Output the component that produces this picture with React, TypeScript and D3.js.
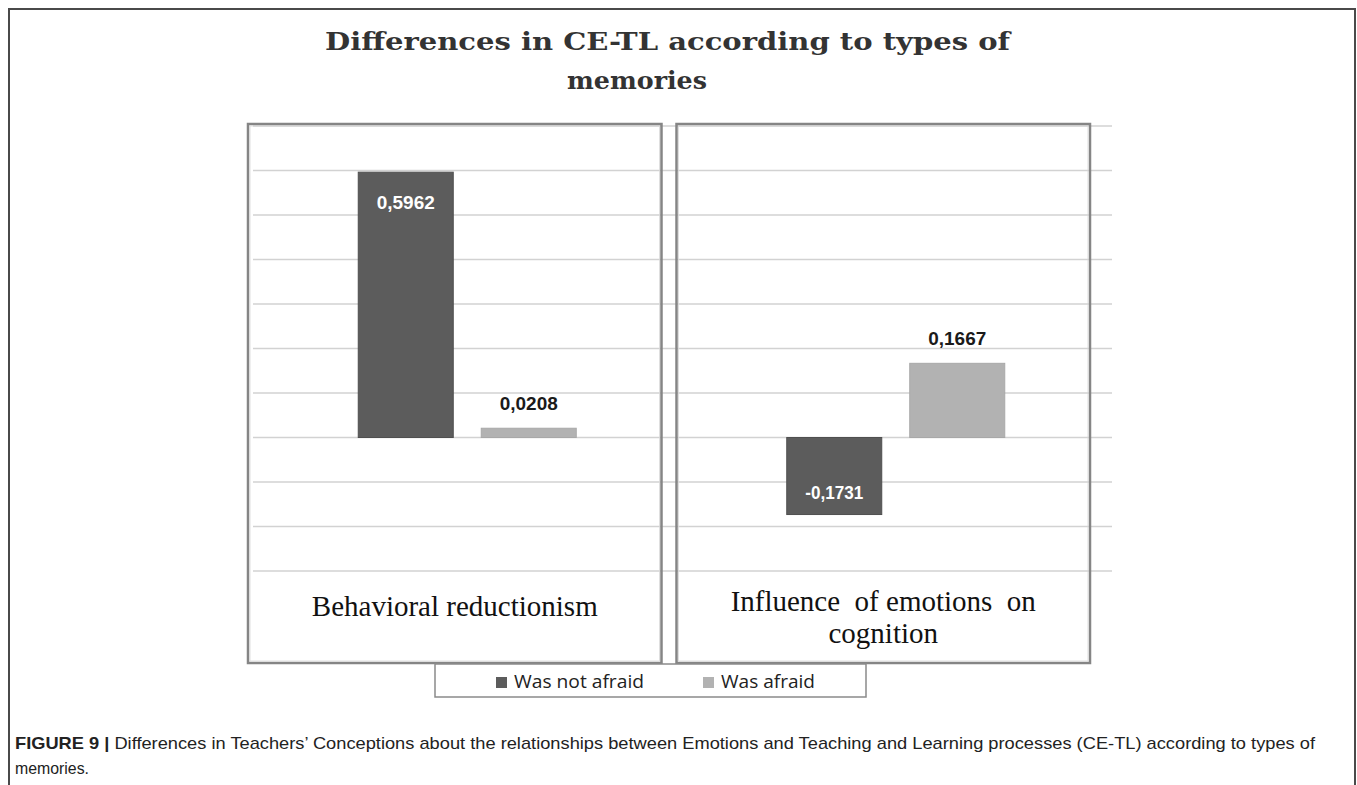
import React from "react";
import * as d3 from "d3";

const categories = ["Behavioral reductionism", "Influence of emotions on cognition"];
const categoryLabelLines = [["Behavioral reductionism"], ["Influence  of emotions  on", "cognition"]];
const seriesNames = ["Was not afraid", "Was afraid"];
const wasNotAfraid = [0.5962, -0.1731];
const wasAfraid = [0.0208, 0.1667];
const seriesColors = ["#5c5c5c", "#b2b2b2"];
const yDomain: [number, number] = [-0.3, 0.7];
const titleLines = ["Differences in CE-TL according to types of", "memories"];
const captionBold = "FIGURE 9 | ";
const captionLine1 =
  "Differences in Teachers\u2019 Conceptions about the relationships between Emotions and Teaching and Learning processes (CE-TL) according to types of";
const captionLine2 = "memories.";

const W = 1357;
const H = 785;

const fmt = (v: number) => d3.format(".4f")(v).replace(".", ",").replace("\u2212", "-");

export default function App() {
  const x0 = d3.scaleBand<string>().domain(categories).range([253, 1110]).padding(0);
  const groupW = 218;
  const x1 = d3.scaleBand<string>().domain(seriesNames).range([0, groupW]).paddingInner(0.2276).paddingOuter(0);
  const y = d3.scaleLinear().domain(yDomain).range([571, 126]);
  const ticks = y.ticks(10);
  const values = [wasNotAfraid, wasAfraid];

  const serif = "'Liberation Serif', 'Times New Roman', serif";
  const titleSerif = "'DejaVu Serif', 'Liberation Serif', serif";
  const sans = "'Liberation Sans', Arial, sans-serif";

  return (
    <svg width={W} height={H} style={{ position: "absolute", left: 0, top: 0, background: "#fff" }}>
      <rect x={0} y={0} width={W} height={H} fill="#fff" />
      {/* outer frame */}
      <path d={`M9,${H} V9 H1355 V${H}`} fill="none" stroke="#4a4a4a" strokeWidth={2} />

      {/* title */}
      <text x={325} y={50} fontFamily={titleSerif} fontWeight="bold" fontSize={25} fill="#333" textLength={685} lengthAdjust="spacingAndGlyphs">
        {titleLines[0]}
      </text>
      <text x={567} y={89} fontFamily={titleSerif} fontWeight="bold" fontSize={25} fill="#333" textLength={140} lengthAdjust="spacingAndGlyphs">
        {titleLines[1]}
      </text>

      {/* gridlines */}
      {ticks.map((t) => (
        <line key={t} x1={253} x2={1112} y1={y(t)} y2={y(t)} stroke="#d2d2d2" strokeWidth={1.5} />
      ))}

      {/* bars */}
      {categories.map((c, ci) => {
        const gx = (x0(c) as number) + (x0.bandwidth() - groupW) / 2;
        return seriesNames.map((s, si) => {
          const v = values[si][ci];
          const bx = gx + (x1(s) as number);
          const top = Math.min(y(v), y(0));
          const h = Math.abs(y(v) - y(0));
          return (
            <rect key={c + s} x={bx} y={top} width={x1.bandwidth()} height={h} fill={seriesColors[si]} stroke={si === 0 ? "#4f4f4f" : "#a8a8a8"} strokeWidth={1} />
          );
        });
      })}

      {/* panels */}
      {categories.map((c, ci) => {
        const px = (x0(c) as number) - 5;
        const pw = x0.bandwidth() - 15;
        return (
          <g key={c}>
            <rect x={px} y={y(0.7) - 2} width={pw} height={663 - (y(0.7) - 2)} fill="none" stroke="#858585" strokeWidth={2.5} />
            <rect x={px + 2} y={y(0.7)} width={pw - 4} height={663 - (y(0.7) - 2) - 4} fill="none" stroke="#d8d8d8" strokeWidth={0.8} />
            {categoryLabelLines[ci].map((ln, li) => (
              <text
                key={li}
                x={px + pw / 2}
                y={(categoryLabelLines[ci].length === 1 ? 616 : 611) + li * 32}
                textAnchor="middle"
                fontFamily={serif}
                fontSize={29}
                fill="#111"
                style={{ whiteSpace: "pre" }}
              >
                {ln}
              </text>
            ))}
          </g>
        );
      })}

      {/* data labels */}
      {categories.map((c, ci) => {
        const gx = (x0(c) as number) + (x0.bandwidth() - groupW) / 2;
        return seriesNames.map((s, si) => {
          const v = values[si][ci];
          const cx = gx + (x1(s) as number) + x1.bandwidth() / 2;
          let ly: number;
          let fill: string;
          if (si === 0) {
            ly = v >= 0 ? y(v) + 37 : y(v) - 16;
            fill = "#fff";
          } else {
            ly = v >= 0 ? y(v) - 18 : y(v) + 30;
            fill = "#1a1a1a";
          }
          return (
            <text key={c + s + "l"} x={cx} y={ly} textAnchor="middle" fontFamily={sans} fontWeight="bold" fontSize={19} fill={fill} textLength={58} lengthAdjust="spacingAndGlyphs">
              {fmt(v)}
            </text>
          );
        });
      })}

      {/* legend */}
      <rect x={435} y={664} width={431} height={33} fill="#fff" stroke="#8a8a8a" strokeWidth={1.5} />
      {seriesNames.map((s, si) => {
        const lx = si === 0 ? 496 : 703;
        return (
          <g key={s}>
            <rect x={lx} y={677} width={11} height={11} fill={seriesColors[si]} />
            <text x={lx + 18} y={688} fontFamily="'Open Sans', sans-serif" fontSize={19} fill="#222" textLength={si === 0 ? 130 : 94} lengthAdjust="spacingAndGlyphs">
              {s}
            </text>
          </g>
        );
      })}

      {/* caption */}
      <text x={15} y={749} fontFamily={sans} fontSize={17} fill="#222" textLength={1300} lengthAdjust="spacingAndGlyphs">
        <tspan fontWeight="bold">{captionBold}</tspan>
        <tspan>{captionLine1}</tspan>
      </text>
      <text x={15} y={774} fontFamily={sans} fontSize={17} fill="#222" textLength={74} lengthAdjust="spacingAndGlyphs">
        {captionLine2}
      </text>
    </svg>
  );
}
